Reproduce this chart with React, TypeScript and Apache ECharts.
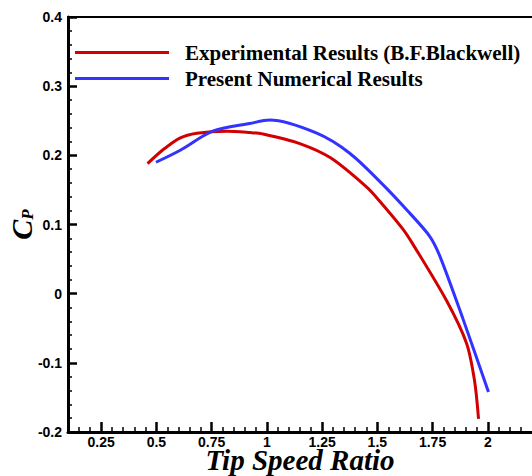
import React, { useEffect, useRef } from "react";
import * as echarts from "echarts";

const seriesNames = ["Experimental Results (B.F.Blackwell)", "Present Numerical Results"];
const seriesColors = ["#d20000", "#3333ff"];

const expX = [0.46, 0.53, 0.606, 0.683, 0.819, 0.923, 0.98, 1.149, 1.29, 1.452, 1.51, 1.614, 1.66, 1.813, 1.904, 1.94, 1.958];
const expY = [0.188, 0.208, 0.225, 0.232, 0.235, 0.233, 0.231, 0.217, 0.196, 0.154, 0.134, 0.094, 0.072, -0.01, -0.072, -0.126, -0.181];

const numX = [0.498, 0.606, 0.755, 0.923, 1.013, 1.226, 1.375, 1.524, 1.642, 1.737, 1.782, 1.886, 2.003];
const numY = [0.19, 0.207, 0.235, 0.246, 0.251, 0.232, 0.203, 0.158, 0.118, 0.083, 0.055, -0.035, -0.142];

const xMajorTicks = [0.25, 0.5, 0.75, 1, 1.25, 1.5, 1.75, 2];
const xMinorTicks = [0.15, 0.2, 0.3, 0.35, 0.4, 0.45, 0.55, 0.6, 0.65, 0.7, 0.8, 0.85, 0.9, 0.95, 1.05, 1.1, 1.15, 1.2, 1.3, 1.35, 1.4, 1.45, 1.55, 1.6, 1.65, 1.7, 1.8, 1.85, 1.9, 1.95, 2.05, 2.1, 2.15];

const xTitle = "Tip Speed Ratio";
const yTitleMain = "C";
const yTitleSub = "P";

export default function App() {
  const ref = useRef<HTMLDivElement>(null);
  useEffect(() => {
    if (!ref.current) return;
    const chart = echarts.init(ref.current, null, { renderer: "svg" });
    const labelFont = { fontFamily: "Liberation Sans", fontWeight: "bold" as const, fontSize: 14, lineHeight: 14, color: "#000" };
    const titleFont = { fontFamily: "Liberation Serif", fontWeight: "bold" as const, fontStyle: "italic" as const, color: "#000" };
    const toPairs = (xs: number[], ys: number[]) => xs.map((x, i) => [x, ys[i]]);
    chart.setOption({
      animation: false,
      backgroundColor: "#fff",
      grid: { left: 68, right: 0, top: 17, bottom: 44, containLabel: false, outerBoundsMode: "none" },
      legend: {
        left: 70,
        top: 37,
        orient: "vertical",
        icon: "rect",
        itemWidth: 94,
        itemHeight: 3,
        itemGap: 5,
        textStyle: {
          fontFamily: "Liberation Serif",
          fontWeight: "bold",
          fontSize: 21,
          lineHeight: 20,
          color: "#000",
          padding: [0, 0, 0, 11],
        },
        data: seriesNames,
      },
      xAxis: [
        {
          type: "value",
          min: 0.1,
          max: 2.2,
          position: "bottom",
          axisLine: { onZero: false, lineStyle: { color: "#000", width: 3 } },
          axisTick: { inside: true, length: 10, customValues: xMajorTicks, lineStyle: { color: "#000", width: 2.5 } },
          axisLabel: { ...labelFont, margin: 3, customValues: xMajorTicks, formatter: (v: number) => String(v) },
          splitLine: { show: false },
          name: xTitle,
          nameLocation: "middle",
          nameGap: 17.5,
          nameMoveOverlap: false,
          nameTextStyle: { ...titleFont, fontSize: 29, lineHeight: 20 },
        },
        {
          type: "value",
          min: 0.1,
          max: 2.2,
          position: "bottom",
          axisLine: { onZero: false, show: false },
          axisTick: { inside: true, length: 5, customValues: xMinorTicks, lineStyle: { color: "#000", width: 1.5 } },
          axisLabel: { show: false },
          splitLine: { show: false },
        },
        {
          type: "value",
          min: 0.1,
          max: 2.2,
          position: "top",
          axisLine: { onZero: false, lineStyle: { color: "#000", width: 2 } },
          axisTick: { show: false },
          axisLabel: { show: false },
          splitLine: { show: false },
        },
      ],
      yAxis: {
        type: "value",
        min: -0.2,
        max: 0.4,
        interval: 0.1,
        axisLine: { show: true, onZero: false, lineStyle: { color: "#000", width: 3 } },
        axisTick: { show: true, inside: true, length: 9, lineStyle: { color: "#000", width: 2.5 } },
        minorTick: { show: true, splitNumber: 5, length: 4, lineStyle: { color: "#000", width: 1.5 } },
        axisLabel: { ...labelFont, margin: 6, formatter: (v: number) => String(Math.round(v * 10) / 10) },
        splitLine: { show: false },
        name: `{c|${yTitleMain}}{p|${yTitleSub}}`,
        nameLocation: "middle",
        nameRotate: 90,
        nameGap: 32,
        nameMoveOverlap: false,
        nameTextStyle: {
          rich: {
            c: { ...titleFont, fontSize: 30, lineHeight: 30, verticalAlign: "top" },
            p: { ...titleFont, fontSize: 17, lineHeight: 17, verticalAlign: "bottom", padding: [18, 0, 0, 0] },
          },
        },
      },
      series: [
        {
          name: seriesNames[0],
          type: "line",
          smooth: 0.3,
          showSymbol: false,
          color: seriesColors[0],
          lineStyle: { width: 3, color: seriesColors[0] },
          data: toPairs(expX, expY),
        },
        {
          name: seriesNames[1],
          type: "line",
          smooth: 0.3,
          showSymbol: false,
          color: seriesColors[1],
          lineStyle: { width: 3, color: seriesColors[1] },
          data: toPairs(numX, numY),
        },
      ],
    });
    return () => chart.dispose();
  }, []);
  return <div ref={ref} style={{ position: "fixed", left: 0, top: 0, width: 532, height: 476 }} />;
}
